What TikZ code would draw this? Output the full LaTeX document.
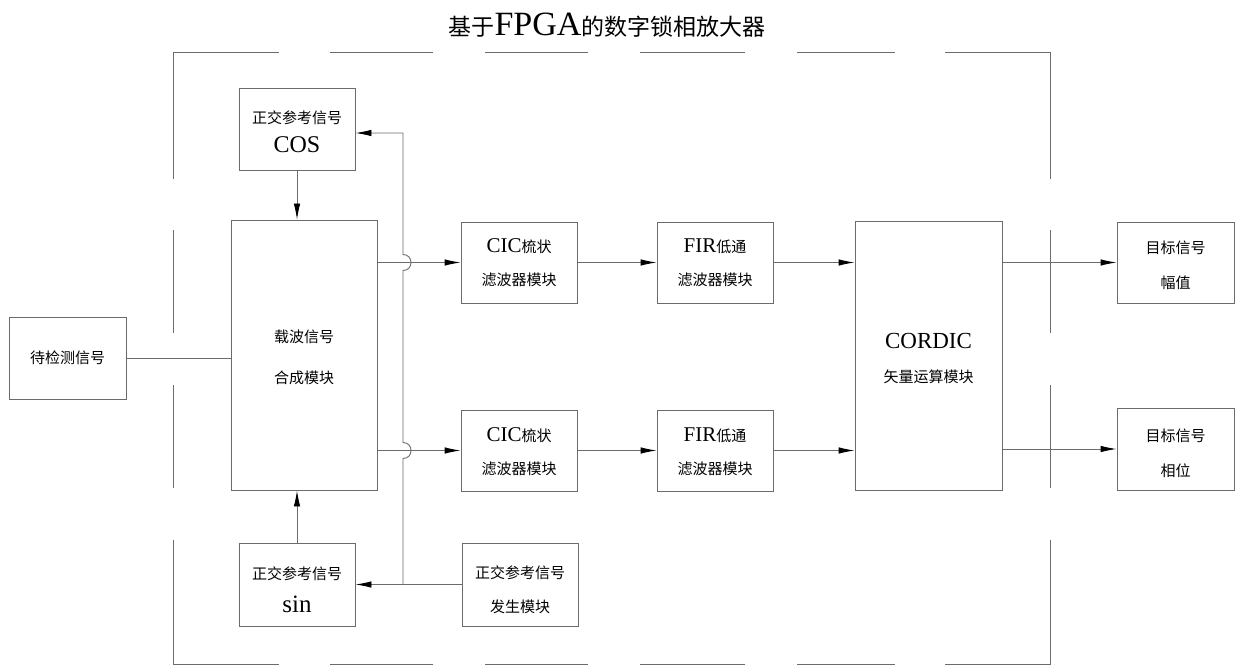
\documentclass[tikz,border=0pt]{standalone}
\usepackage{fontspec}
\setmainfont{Liberation Serif}
\newfontfamily\cjk{Noto Sans CJK SC}
\usetikzlibrary{arrows.meta,calc}
\definecolor{lc}{gray}{0.42}
\newcommand\la[2]{{\rmfamily\fontsize{#1}{#1}\selectfont #2}}
\tikzset{
  ln/.style={draw=lc, line width=0.9pt},
  arr/.style={ln, -{Latex[length=16pt,width=6.5pt,color=black]}},
  bd/.style={draw=lc, line width=0.9pt},
  bx/.style={draw=lc, line width=0.9pt, minimum width=116pt, minimum height=81pt,
             align=center, inner sep=0pt, text depth=0pt, text=black},
  bs/.style={font=\cjk\fontsize{15}{#1}\selectfont},
}
\begin{document}
\begin{tikzpicture}[x=1pt,y=-1pt]
\useasboundingbox (0,0) rectangle (1240,668);
\fill[white] (0,0) rectangle (1240,668);

% title
\node[anchor=base, inner sep=0pt, font=\cjk\fontsize{23}{23}\selectfont] (title) at (607,36)
  {基于\la{34}{FPGA}的数字锁相放大器};

% dashed frame
\draw[bd] (173,179) -- (173,52) -- (279,52);
\draw[bd] (330,52) -- (433,52);
\draw[bd] (485,52) -- (588,52);
\draw[bd] (640,52) -- (745,52);
\draw[bd] (797,52) -- (895,52);
\draw[bd] (945,52) -- (1050,52) -- (1050,179);
\draw[bd] (173,230) -- (173,333);
\draw[bd] (173,385) -- (173,488);
\draw[bd] (173,540) -- (173,664) -- (279,664);
\draw[bd] (330,664) -- (433,664);
\draw[bd] (485,664) -- (588,664);
\draw[bd] (640,664) -- (745,664);
\draw[bd] (797,664) -- (895,664);
\draw[bd] (945,664) -- (1050,664) -- (1050,540);
\draw[bd] (1050,230) -- (1050,333);
\draw[bd] (1050,385) -- (1050,488);

% boxes
\node[bx, bs=15, text depth=, minimum width=117pt, minimum height=82pt] (inp) at (67.5,358) {待检测信号};
\node[bx, bs=29, minimum height=82pt, text height=48pt] (cosb) at (297,129) {正交参考信号\\\la{24}{COS}};
\node[bx, bs=33, minimum height=83pt, text height=55pt] (sinb) at (297,584.5) {正交参考信号\\\la{25}{sin}};
\node[bx, bs=41, minimum width=146pt, minimum height=270pt, text height=58pt] (main) at (304,355) {载波信号\\合成模块};
\node[bx, bs=33, text height=47pt] (cic1) at (519,262.5) {\la{21}{CIC}梳状\\滤波器模块};
\node[bx, bs=33, text height=47pt] (fir1) at (715,262.5) {\la{21}{FIR}低通\\滤波器模块};
\node[bx, bs=33, text height=47pt] (cic2) at (519,450.5) {\la{21}{CIC}梳状\\滤波器模块};
\node[bx, bs=33, text height=47pt] (fir2) at (715,450.5) {\la{21}{FIR}低通\\滤波器模块};
\node[bx, bs=34, minimum height=83pt, text height=55pt] (gen) at (520,584.5) {正交参考信号\\发生模块};
\node[bx, bs=34, minimum width=147pt, minimum height=269pt, text height=53pt] (cordic) at (928.5,355.5) {\la{23}{CORDIC}\\矢量运算模块};
\node[bx, bs=35, minimum width=117pt, text height=53pt] (tgt1) at (1175.5,262.5) {目标信号\\幅值};
\node[bx, bs=35, minimum width=117pt, minimum height=82pt, text height=54pt] (tgt2) at (1175.5,449) {目标信号\\相位};

% connectors
\draw[ln] (inp.east) -- (inp.east -| main.west);
\draw[arr] (cosb.south) -- (cosb.south |- main.north);
\draw[arr] (sinb.north) -- (sinb.north |- main.south);
\draw[arr] (main.east |- cic1.west) -- (cic1.west);
\draw[arr] (main.east |- cic2.west) -- (cic2.west);
\draw[arr] (cic1.east) -- (fir1.west);
\draw[arr] (cic2.east) -- (fir2.west);
\draw[arr] (fir1.east) -- (fir1.east -| cordic.west);
\draw[arr] (fir2.east) -- (fir2.east -| cordic.west);
\draw[arr] (cordic.east |- tgt1.west) -- (tgt1.west);
\draw[arr] (cordic.east |- tgt2.west) -- (tgt2.west);
\draw[arr] (gen.west) -- (gen.west -| sinb.east);

% feedback bus with hops
\coordinate (bus) at (403,0);
\coordinate (h1) at (bus |- cic1.west);
\coordinate (h2) at (bus |- cic2.west);
\coordinate (fb) at (403,133);
\draw[arr] (gen.west -| bus) -- ($(h2)+(0,8)$)
  .. controls ($(h2)+(10.7,8)$) and ($(h2)+(10.7,-8)$) .. ($(h2)+(0,-8)$)
  -- ($(h1)+(0,8)$)
  .. controls ($(h1)+(10.7,8)$) and ($(h1)+(10.7,-8)$) .. ($(h1)+(0,-8)$)
  -- (fb) -- (fb -| cosb.east);
\end{tikzpicture}
\end{document}
